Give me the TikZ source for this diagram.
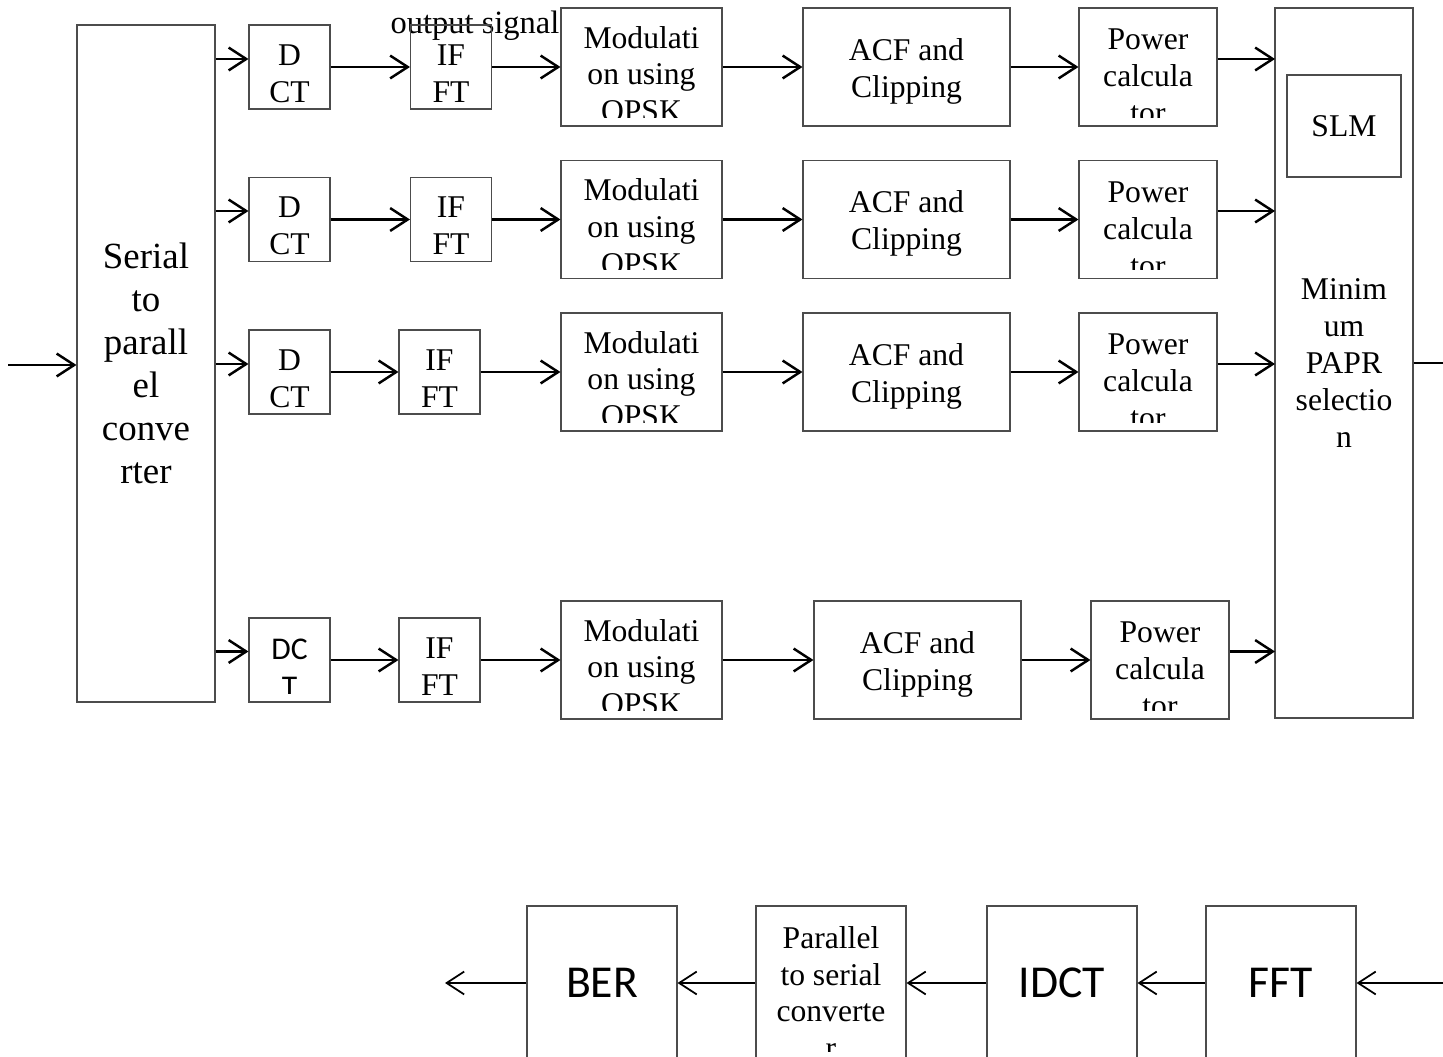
\documentclass[tikz,border=0pt]{standalone}
\usepackage{fontspec}
\setmainfont{Liberation Serif}
\newfontfamily\calibri{Carlito}
\usetikzlibrary{arrows.meta}
\tikzset{
  blk/.style={draw=black!70,line width=0.6pt,inner sep=0pt,align=center,font=\fontsize{18}{21}\selectfont},
  ptext/.style 2 args={path picture={\node[align=center,font=\fontsize{18}{21}\selectfont] at ([yshift=#1]path picture bounding box.center) {#2};}},
  ctext/.style={path picture={\clip (path picture bounding box.north west) rectangle ([yshift=0.17cm]path picture bounding box.south east);
    \node[align=center,font=\fontsize{18}{21}\selectfont] at ([yshift=-0.19cm]path picture bounding box.center) {#1};}},
  csans/.style={path picture={\clip (path picture bounding box.north west) rectangle ([yshift=0.18cm]path picture bounding box.south east);
    \node[align=center,font=\calibri\fontsize{18}{21.5}\selectfont] at ([yshift=-0.16cm]path picture bounding box.center) {#1};}},
  dctbox/.style={blk,minimum width=1.62cm,minimum height=1.68cm},
  modbox/.style={blk,minimum width=3.22cm,minimum height=2.36cm},
  acfbox/.style={blk,minimum width=4.14cm,minimum height=2.36cm},
  powbox/.style={blk,minimum width=2.76cm,minimum height=2.36cm},
  btmbox/.style={blk,minimum width=3cm,minimum height=3.08cm},
  arr/.style={-{Straight Barb[length=10pt,width=13pt]},line width=1.4pt},
  back/.style={arr,line width=1pt}
}
\begin{document}
\begin{tikzpicture}
\useasboundingbox (0,0) rectangle (28.86,-21.14);
\clip (0,0) rectangle (28.86,-21.14);
% big blocks
\node[blk,minimum width=2.76cm,minimum height=13.54cm,font=\fontsize{21}{24.4}\selectfont] (sp) at (2.92,-7.27) {Serial\\to\\parall\\el\\conve\\rter};
\node[blk,minimum width=2.76cm,minimum height=14.20cm] (min) at (26.88,-7.26) {Minim\\um\\PAPR\\selectio\\n};
\node[blk,minimum width=2.28cm,minimum height=2.04cm] (slm) at (26.88,-2.52) {SLM};
\node[font=\fontsize{18.5}{21}\selectfont] (lbl) at (9.50,-0.52) {output signal};
% row 1
\node[dctbox,ptext={-0.13cm}{D\\CT}] (d1) at (5.79,-1.34) {};
\node[dctbox,ptext={-0.13cm}{IF\\FT}] (f1) at (9.02,-1.34) {};
\node[modbox,ctext={Modulati\\on using\\QPSK}] (m1) at (12.83,-1.34) {};
\node[acfbox,ptext={-0.08cm}{ACF and\\Clipping}] (c1) at (18.13,-1.34) {};
\node[powbox,ctext={Power\\calcula\\tor}] (p1) at (22.96,-1.34) {};
% row 2
\node[dctbox,ptext={-0.13cm}{D\\CT}] (d2) at (5.79,-4.39) {};
\node[dctbox,ptext={-0.13cm}{IF\\FT}] (f2) at (9.02,-4.39) {};
\node[modbox,ctext={Modulati\\on using\\QPSK}] (m2) at (12.83,-4.39) {};
\node[acfbox,ptext={-0.08cm}{ACF and\\Clipping}] (c2) at (18.13,-4.39) {};
\node[powbox,ctext={Power\\calcula\\tor}] (p2) at (22.96,-4.39) {};
% row 3
\node[dctbox,ptext={-0.13cm}{D\\CT}] (d3) at (5.79,-7.44) {};
\node[dctbox,ptext={-0.13cm}{IF\\FT}] (f3) at (8.79,-7.44) {};
\node[modbox,ctext={Modulati\\on using\\QPSK}] (m3) at (12.83,-7.44) {};
\node[acfbox,ptext={-0.08cm}{ACF and\\Clipping}] (c3) at (18.13,-7.44) {};
\node[powbox,ctext={Power\\calcula\\tor}] (p3) at (22.96,-7.44) {};
% row 4
\node[dctbox,csans={DC\\T}] (d4) at (5.79,-13.20) {};
\node[dctbox,ptext={-0.13cm}{IF\\FT}] (f4) at (8.79,-13.20) {};
\node[modbox,ctext={Modulati\\on using\\QPSK}] (m4) at (12.83,-13.20) {};
\node[acfbox,ptext={-0.08cm}{ACF and\\Clipping}] (c4) at (18.35,-13.20) {};
\node[powbox,ctext={Power\\calcula\\tor}] (p4) at (23.20,-13.20) {};
% receiver
\node[btmbox,font=\calibri\fontsize{26}{30}\selectfont] (ber) at (12.04,-19.66) {BER};
\node[btmbox,ctext={Parallel\\to serial\\converte\\r}] (ps) at (16.62,-19.66) {};
\node[btmbox,font=\calibri\fontsize{26}{30}\selectfont] (idct) at (21.24,-19.66) {IDCT};
\node[btmbox,font=\calibri\fontsize{26}{30}\selectfont] (fft) at (25.62,-19.66) {FFT};
% free ends
\coordinate (in) at (0.16,-7.30);
\coordinate (out) at (28.86,-7.26);
\coordinate (a1) at (25.50,-1.18);
\coordinate (a2) at (25.50,-4.22);
\coordinate (a3) at (25.50,-7.28);
\coordinate (a4) at (25.50,-13.03);
\coordinate (rin) at (28.86,-19.66);
\coordinate (rout) at (8.90,-19.66);
% connectors
\draw[arr] (in) -- (in -| sp.west);
\draw[arr] (sp.east |- a1) -- (d1.west |- a1);
\draw[arr] (sp.east |- a2) -- (d2.west |- a2);
\draw[arr] (sp.east |- a3) -- (d3.west |- a3);
\draw[arr] (sp.east |- a4) -- (d4.west |- a4);
\draw[arr] (d1) -- (f1);
\draw[arr] (d2) -- (f2);
\draw[arr] (d3) -- (f3);
\draw[arr] (d4) -- (f4);
\draw[arr] (f1) -- (m1);
\draw[arr] (f2) -- (m2);
\draw[arr] (f3) -- (m3);
\draw[arr] (f4) -- (m4);
\draw[arr] (m1) -- (c1);
\draw[arr] (m2) -- (c2);
\draw[arr] (m3) -- (c3);
\draw[arr] (m4) -- (c4);
\draw[arr] (c1) -- (p1);
\draw[arr] (c2) -- (p2);
\draw[arr] (c3) -- (p3);
\draw[arr] (c4) -- (p4);
\draw[arr] (p1.east |- a1) -- (a1);
\draw[arr] (p2.east |- a2) -- (a2);
\draw[arr] (p3.east |- a3) -- (a3);
\draw[arr] (p4.east |- a4) -- (a4);
\draw[line width=1.4pt] (min.east) -- (out);
\draw[back] (rin) -- (fft);
\draw[back] (fft) -- (idct);
\draw[back] (idct) -- (ps);
\draw[back] (ps) -- (ber);
\draw[back] (ber) -- (rout);
\end{tikzpicture}
\end{document}
